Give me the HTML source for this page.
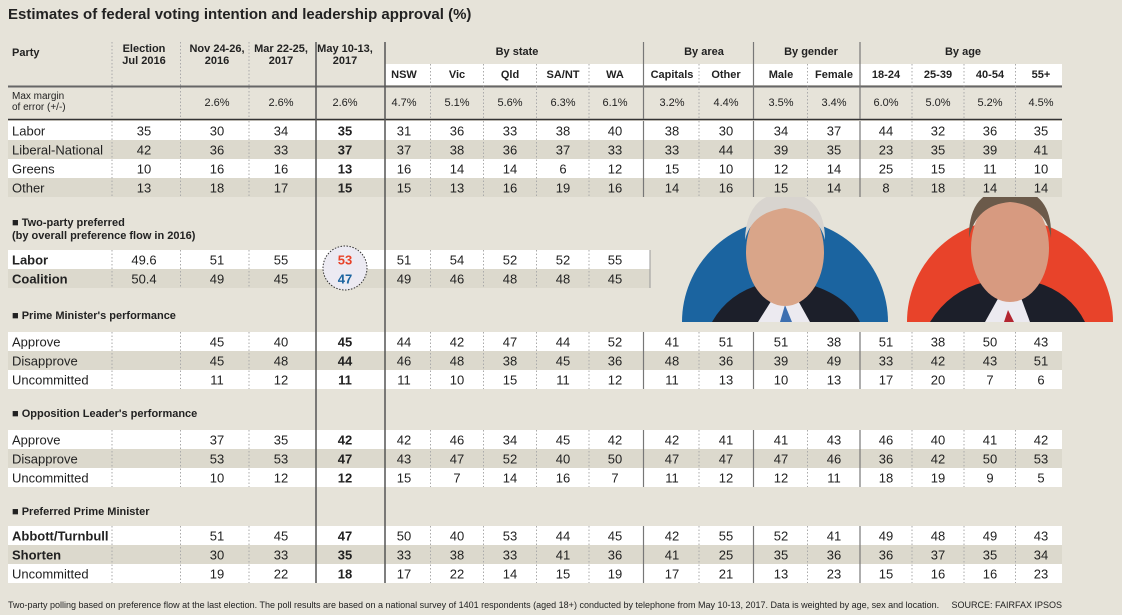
<!DOCTYPE html>
<html><head><meta charset="utf-8">
<style>
html,body{margin:0;padding:0;background:#e6e3d9;}
svg{display:block;font-family:"Liberation Sans Narrow","Liberation Sans",sans-serif;}
</style></head>
<body>
<svg id="c" width="1122" height="615" viewBox="0 0 1122 615" xmlns="http://www.w3.org/2000/svg">
<rect x="0" y="0" width="1122" height="615" fill="#e6e3d9"/>
<text x="8" y="19" font-size="15" font-weight="bold" fill="#222">Estimates of federal voting intention and leadership approval (%)</text>
<g id="photos">
  <path d="M682 322 A103 103 0 0 1 888 322 Z" fill="#1b64a0"/>
  <path d="M907 322 A103 103 0 0 1 1113 322 Z" fill="#e8432a"/>
  <path d="M712 322 Q730 290 770 282 L800 282 Q845 292 860 322 Z" fill="#1c1f2a"/>
  <path d="M758 322 L775 295 L795 295 L810 322 Z" fill="#eceaf0"/>
  <path d="M780 322 L785 305 L792 322 Z" fill="#3d6fb0"/>
  <ellipse cx="785" cy="252" rx="39" ry="54" fill="#d9a589"/>
  <path d="M745 240 Q746 195 785 192 Q825 195 825 240 Q818 212 785 208 Q752 212 745 240 Z" fill="#d8d4cf"/>
  <path d="M930 322 Q950 290 985 282 L1035 282 Q1070 292 1085 322 Z" fill="#1c1f2a"/>
  <path d="M985 322 L1000 295 L1020 295 L1030 322 Z" fill="#eceaf0"/>
  <path d="M1004 322 L1008 310 L1014 322 Z" fill="#b32530"/>
  <ellipse cx="1010" cy="248" rx="39" ry="54" fill="#d79a80"/>
  <path d="M969 238 Q968 190 1010 188 Q1053 190 1051 238 Q1046 205 1010 202 Q976 205 969 238 Z" fill="#6b5a4a"/>
</g>
<g id="tbl"></g>
<text x="8" y="608" font-size="9" fill="#222">Two-party polling based on preference flow at the last election. The poll results are based on a national survey of 1401 respondents (aged 18+) conducted by telephone from May 10-13, 2017. Data is weighted by age, sex and location.</text>
<text x="1062" y="608" font-size="9" fill="#222" text-anchor="end">SOURCE: FAIRFAX IPSOS</text>
</svg>
<script>
// ---- data ----
const columns = ["Election","Nov","Mar","May","NSW","Vic","Qld","SA/NT","WA","Capitals","Other","Male","Female","18-24","25-39","40-54","55+"];
const margins = ["","2.6%","2.6%","2.6%","4.7%","5.1%","5.6%","6.3%","6.1%","3.2%","4.4%","3.5%","3.4%","6.0%","5.0%","5.2%","4.5%"];
const partyLabels = ["Labor","Liberal-National","Greens","Other"];
const laborVote = [35,30,34,35,31,36,33,38,40,38,30,34,37,44,32,36,35];
const libNatVote = [42,36,33,37,37,38,36,37,33,33,44,39,35,23,35,39,41];
const greensVote = [10,16,16,13,16,14,14,6,12,15,10,12,14,25,15,11,10];
const otherVote = [13,18,17,15,15,13,16,19,16,14,16,15,14,8,18,14,14];
const tppLabor = [49.6,51,55,53,51,54,52,52,55];
const tppCoalition = [50.4,49,45,47,49,46,48,48,45];
const pmApprove = ["",45,40,45,44,42,47,44,52,41,51,51,38,51,38,50,43];
const pmDisapprove = ["",45,48,44,46,48,38,45,36,48,36,39,49,33,42,43,51];
const pmUncommitted = ["",11,12,11,11,10,15,11,12,11,13,10,13,17,20,7,6];
const olApprove = ["",37,35,42,42,46,34,45,42,42,41,41,43,46,40,41,42];
const olDisapprove = ["",53,53,47,43,47,52,40,50,47,47,47,46,36,42,50,53];
const olUncommitted = ["",10,12,12,15,7,14,16,7,11,12,12,11,18,19,9,5];
const ppmAbbott = ["",51,45,47,50,40,53,44,45,42,55,52,41,49,48,49,43];
const ppmShorten = ["",30,33,35,33,38,33,41,36,41,25,35,36,36,37,35,34];
const ppmUncommitted = ["",19,22,18,17,22,14,15,19,17,21,13,23,15,16,16,23];

// ---- layout ----
const colX = [144,217,281,345,404,457,510,563,615,672,726,781,834,886,938,990,1041];
const L = 8, R = 1062, RH = 19;
const NS = "http://www.w3.org/2000/svg";
const g = document.getElementById('tbl');
function el(tag, attrs, parent){ const e=document.createElementNS(NS,tag); for(const k in attrs) e.setAttribute(k,attrs[k]); (parent||g).appendChild(e); return e; }
function txt(x,y,s,size,bold,anchor,fill){ const t=el('text',{x:x,y:y,'font-size':size,'font-weight':bold?'bold':'normal','text-anchor':anchor||'middle',fill:fill||'#222'}); t.textContent=s; return t; }

const band = el('rect',{x:385,y:64,width:R-385,height:21,fill:'#fff'});


let h = txt(12,56,"Party",11,true,'start');  
const hdr = [["Election","Jul 2016"],["Nov 24-26,","2016"],["Mar 22-25,","2017"],["May 10-13,","2017"]];
hdr.forEach((p,i)=>{ const a=txt(colX[i],52,p[0],11,true);   const b=txt(colX[i],64,p[1],11,true);   });
[["By state",517],["By area",704],["By gender",811],["By age",963]].forEach(p=>{ const t=txt(p[1],55,p[0],11,true);   });
for(let i=4;i<columns.length;i++){ const t=txt(colX[i],78,columns[i],11,true);   }
el('line',{x1:L,x2:R,y1:86.5,y2:86.5,stroke:'#666','stroke-width':2});
let m1=txt(12,99,"Max margin",10,false,'start');  
let m2=txt(12,110,"of error (+/-)",10,false,'start');  
margins.forEach((v,i)=>{ if(v){ const t=txt(colX[i],106,v,11);   }});
el('line',{x1:L,x2:R,y1:119.5,y2:119.5,stroke:'#333','stroke-width':1.5});

function rowBlock(top, labels, series, boldLabels, right, boldIdx, colors){
  labels.forEach((lab,r)=>{
    const y0 = top + r*RH;
    const bg = el('rect',{x:L,y:y0,width:right-L,height:RH,fill: r%2===0?'#fff':'#dcd9cd'});
    
    
    const lt = txt(12,y0+14.5,lab,13,boldLabels[r],'start');
    
    
    series[r].forEach((v,i)=>{
      if(v==="") return;
      const c = colors && i===boldIdx ? colors[r] : '#222';
      const t = txt(colX[i],y0+14.5,String(v),13,i===boldIdx,'middle',c);
      
      
    });
  });
  const bottom = top + labels.length*RH;
  const ncol = series[0].length;
  for(let i=0;i<ncol;i++){
    let x = i===0 ? 112 : (colX[i-1]+colX[i])/2;
    if(i===3||i===4) continue;
    const solid = (i===9||i===11||i===13);
    el('line',{x1:x,x2:x,y1:top,y2:bottom,stroke:solid?'#777':'#aaa','stroke-width':solid?1.2:1,'stroke-dasharray':solid?'none':'1.5,2'});
  }
  if(right<R) el('line',{x1:right,x2:right,y1:top,y2:bottom,stroke:'#999','stroke-width':1});
}
for(let i=0;i<columns.length;i++){
  let x = i===0 ? 112 : (colX[i-1]+colX[i])/2;
  if(i===3||i===4) continue;
  const solid=(i===9||i===11||i===13);
  const y1 = i>=5 ? 64 : 42;
  if(solid) el('line',{x1:x,x2:x,y1:42,y2:119,stroke:'#777','stroke-width':1.2});
  else el('line',{x1:x,x2:x,y1:y1,y2:119,stroke:'#aaa','stroke-dasharray':'1.5,2'});
}

rowBlock(121, partyLabels, [laborVote,libNatVote,greensVote,otherVote], [false,false,false,false], R, 3);

function section(y, lines){ lines.forEach((s,k)=>{ const t=txt(12,y+k*13,s,11,true,'start');   }); }
section(226,["\u25A0 Two-party preferred","  (by overall preference flow in 2016)"]);
const circ = el('circle',{cx:345,cy:268,r:22,fill:'#eceaf2',stroke:'#333','stroke-width':1,'stroke-dasharray':'1.5,1.5'});


rowBlock(250, ["Labor","Coalition"], [tppLabor,tppCoalition], [true,true], 650, 3, ['#e8432a','#1b64a0']);
g.appendChild(circ);
tppLabor.forEach((v,i)=>{ if(i===3){ const t=txt(colX[i],264.5,String(v),13,true,'middle','#e8432a');   }});
tppCoalition.forEach((v,i)=>{ if(i===3){ const t=txt(colX[i],283.5,String(v),13,true,'middle','#1b64a0');   }});

section(319,["\u25A0 Prime Minister's performance"]);
rowBlock(332, ["Approve","Disapprove","Uncommitted"], [pmApprove,pmDisapprove,pmUncommitted], [false,false,false], R, 3);
section(417,["\u25A0 Opposition Leader's performance"]);
rowBlock(430, ["Approve","Disapprove","Uncommitted"], [olApprove,olDisapprove,olUncommitted], [false,false,false], R, 3);
section(515,["\u25A0 Preferred Prime Minister"]);
rowBlock(526, ["Abbott/Turnbull","Shorten","Uncommitted"], [ppmAbbott,ppmShorten,ppmUncommitted], [true,true,false], R, 3);

[316,385].forEach(x=>{ const l=el('line',{x1:x,x2:x,y1:42,y2:583,stroke:'#555','stroke-width':1.5});   });
</script>
</body></html>
